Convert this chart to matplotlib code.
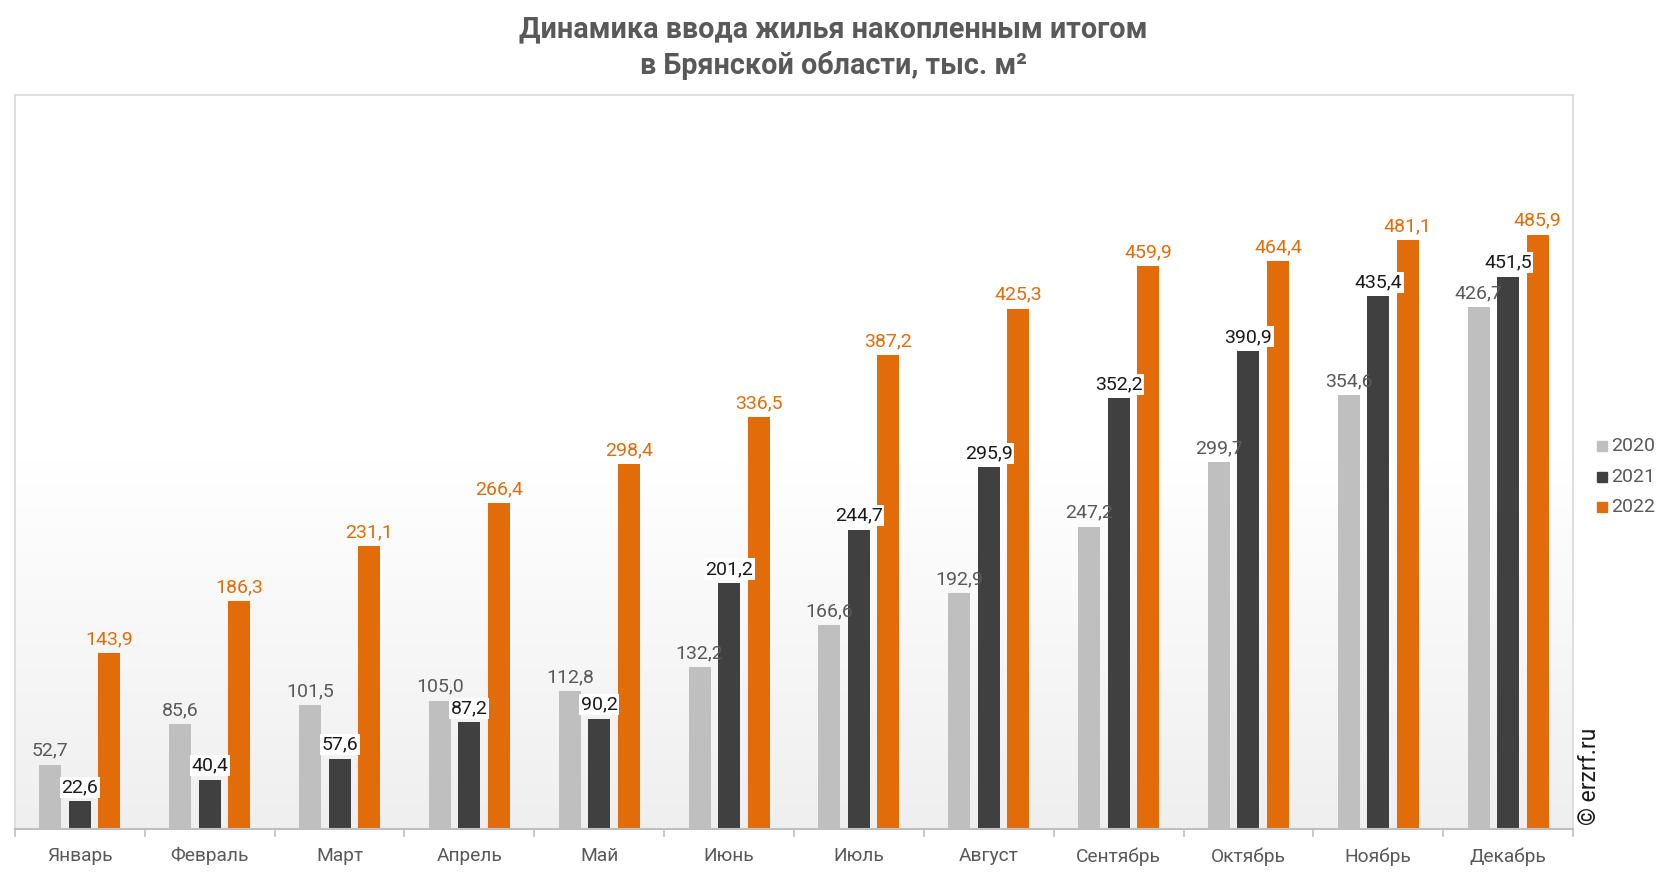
import matplotlib
matplotlib.use("Agg")
import matplotlib.pyplot as plt
import numpy as np
from matplotlib.colors import LinearSegmentedColormap

months = ["Январь", "Февраль", "Март", "Апрель", "Май", "Июнь", "Июль",
          "Август", "Сентябрь", "Октябрь", "Ноябрь", "Декабрь"]
v2020 = [52.7, 85.6, 101.5, 105.0, 112.8, 132.2, 166.6, 192.9, 247.2, 299.7, 354.6, 426.7]
v2021 = [22.6, 40.4, 57.6, 87.2, 90.2, 201.2, 244.7, 295.9, 352.2, 390.9, 435.4, 451.5]
v2022 = [143.9, 186.3, 231.1, 266.4, 298.4, 336.5, 387.2, 425.3, 459.9, 464.4, 481.1, 485.9]
years = ["2020", "2021", "2022"]

plt.rcParams['font.family'] = ['Roboto', 'DejaVu Sans']

fig = plt.figure(figsize=(16.66, 8.72), dpi=100)
ax = fig.add_axes([15/1666, 1-829/872, (1573-15)/1666, (829-95)/872])

# gradient background
grad = np.linspace(0, 1, 256).reshape(-1, 1)
cmap = LinearSegmentedColormap.from_list("bg", ["#ffffff", "#ffffff", "#efefef"])
ax.imshow(grad, aspect='auto', cmap=cmap, extent=[0, 1, 0, 1], transform=ax.transAxes, zorder=0)

x = np.arange(len(months))
w = 0.17
step = 0.227
colors = ["#bfbfbf", "#404040", "#e36c0a"]
lab_colors = ["#595959", "#1a1a1a", "#e36c0a"]
series = [v2020, v2021, v2022]

for i, (vals, c, lc, yr) in enumerate(zip(series, colors, lab_colors, years)):
    xs = x + (i - 1) * step
    ax.bar(xs, vals, width=w, color=c, zorder=2, label=yr)
    for xi, v in zip(xs, vals):
        txt = f"{v:.1f}".replace(".", ",")
        kw = {}
        if i == 1:
            kw['bbox'] = dict(boxstyle='square,pad=0.08', fc='white', ec='none')
        ax.annotate(txt, (xi, v), xytext=(0, 3.5), textcoords='offset points',
                    ha='center', va='bottom', fontsize=14, color=lc, zorder=3 + i, **kw)

ax.set_xlim(-0.5, len(months) - 0.5)
ax.set_ylim(0, 600)
ax.set_yticks([])
ax.set_xticks(x)
ax.set_xticklabels(months, fontsize=13.8, color="#595959")
ax.tick_params(axis='x', length=0, pad=13)
# category boundary ticks
for b in np.arange(-0.5, len(months) + 0.5, 1):
    ax.plot([b, b], [0, -6], color="#bfbfbf", lw=1.2, clip_on=False, transform=ax.transData)

for s in ['left', 'top', 'right']:
    ax.spines[s].set_color("#d9d9d9")
    ax.spines[s].set_linewidth(1.2)
ax.spines['bottom'].set_color("#bfbfbf")
ax.spines['bottom'].set_linewidth(1.5)

fig.text(0.5, 1 - 29/872, "Динамика ввода жилья накопленным итогом", ha='center', va='center',
         fontsize=20.7, fontweight='bold', color="#595959")
fig.text(0.5, 1 - 65/872, "в Брянской области, тыс. м²", ha='center', va='center',
         fontsize=20.7, fontweight='bold', color="#595959")

# legend
for j, (yr, c) in enumerate(zip(years, colors)):
    yy = 1 - (446 + 30.5 * j) / 872
    fig.patches.append(plt.Rectangle((1597/1666, yy - 5/872), 10/1666, 10/872,
                                     transform=fig.transFigure, color=c))
    fig.text(1611/1666, yy, yr, ha='left', va='center', fontsize=14, color="#595959")

fig.text(1590/1666, 1 - 776/872, "© erzrf.ru", rotation=90, ha='center', va='center',
         fontsize=16.5, color="#1a1a1a")

fig.savefig("out.png", dpi=100, facecolor='white')
